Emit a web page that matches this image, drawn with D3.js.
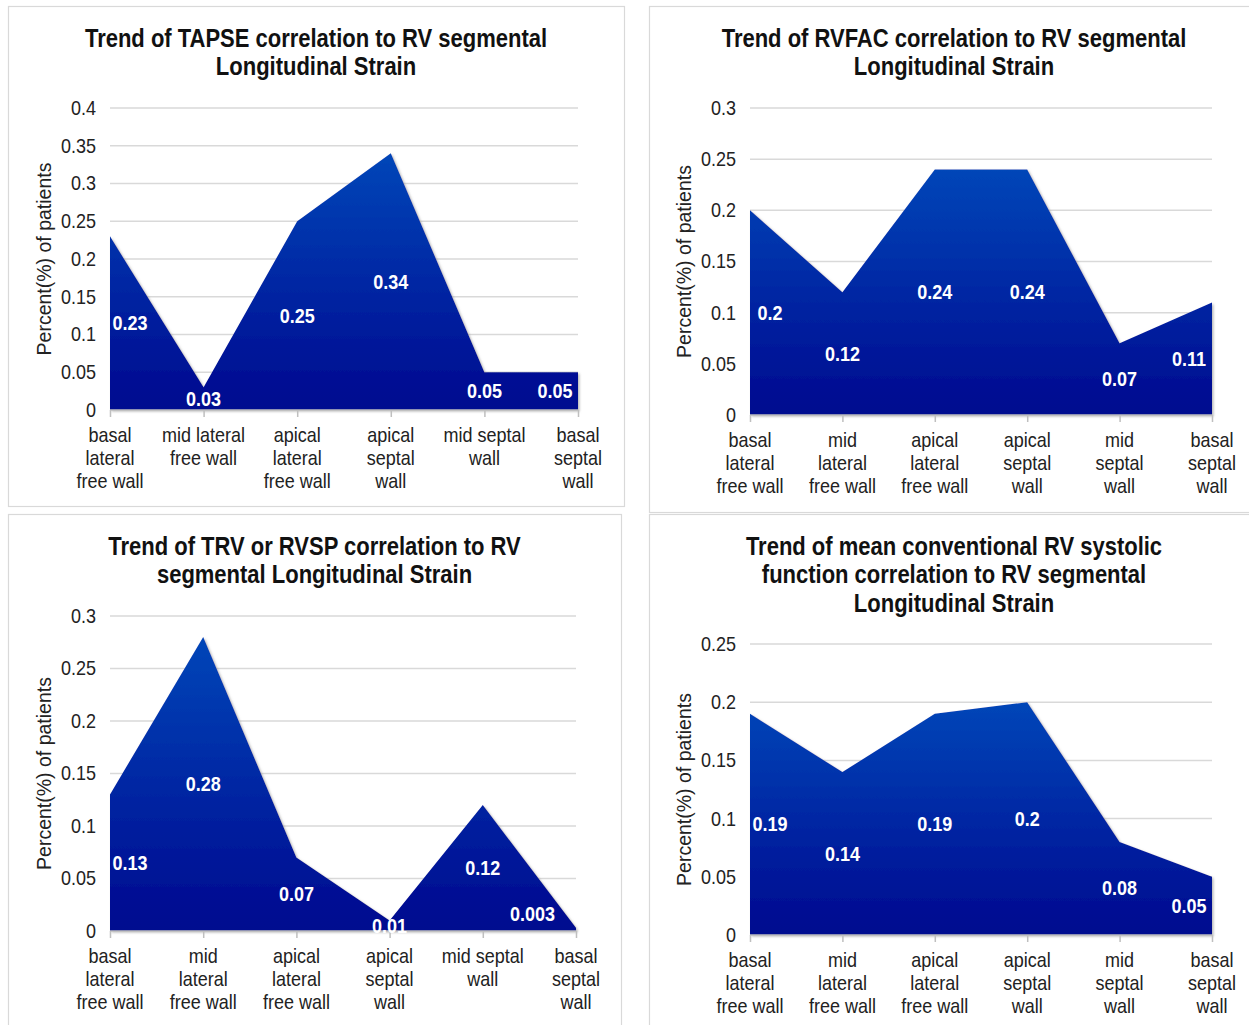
<!DOCTYPE html>
<html>
<head>
<meta charset="utf-8">
<script src="https://cdn.jsdelivr.net/npm/d3@7"></script>
<style>
  body { margin: 0; background: #fff; }
  svg { display: block; font-family: "Liberation Sans Narrow", "Arial Narrow", "Liberation Sans", sans-serif; }
</style>
</head>
<body>
<script>
// données
const segmentsA = [['basal', 'lateral', 'free wall'], ['mid lateral', 'free wall'], ['apical', 'lateral', 'free wall'],
  ['apical', 'septal', 'wall'], ['mid septal', 'wall'], ['basal', 'septal', 'wall']];
const segmentsB = [['basal', 'lateral', 'free wall'], ['mid', 'lateral', 'free wall'], ['apical', 'lateral', 'free wall'],
  ['apical', 'septal', 'wall'], ['mid', 'septal', 'wall'], ['basal', 'septal', 'wall']];
const segmentsC = [['basal', 'lateral', 'free wall'], ['mid', 'lateral', 'free wall'], ['apical', 'lateral', 'free wall'],
  ['apical', 'septal', 'wall'], ['mid septal', 'wall'], ['basal', 'septal', 'wall']];

const tapseValues = [0.23, 0.03, 0.25, 0.34, 0.05, 0.05];
const rvfacValues = [0.2, 0.12, 0.24, 0.24, 0.07, 0.11];
const trvValues = [0.13, 0.28, 0.07, 0.01, 0.12, 0.003];
const meanValues = [0.19, 0.14, 0.19, 0.2, 0.08, 0.05];

const ticksTapse = [0, 0.05, 0.1, 0.15, 0.2, 0.25, 0.3, 0.35, 0.4];
const ticksRvfac = [0, 0.05, 0.1, 0.15, 0.2, 0.25, 0.3];
const ticksTrv = [0, 0.05, 0.1, 0.15, 0.2, 0.25, 0.3];
const ticksMean = [0, 0.05, 0.1, 0.15, 0.2, 0.25];

const titleTapse = ['Trend of TAPSE correlation to RV segmental', 'Longitudinal Strain'];
const titleRvfac = ['Trend of RVFAC correlation to RV segmental', 'Longitudinal Strain'];
const titleTrv = ['Trend of TRV or RVSP correlation to RV', 'segmental Longitudinal Strain'];
const titleMean = ['Trend of mean conventional RV systolic', 'function correlation to RV segmental', 'Longitudinal Strain'];

const yLabel = 'Percent(%) of patients';

const width = 1249;
const height = 1025;
const narrow = 0.9; // compression horizontale pour imiter Arial Narrow

const svg = d3.select('body')
  .append('svg')
  .attr('width', width)
  .attr('height', height);

const defs = svg.append('defs');
const grad = defs.append('linearGradient')
  .attr('id', 'blueFill')
  .attr('x1', 0).attr('y1', 0).attr('x2', 0).attr('y2', 1);
grad.append('stop').attr('offset', '0%').attr('stop-color', '#0646b8');
grad.append('stop').attr('offset', '100%').attr('stop-color', '#00088f');

const shadow = defs.append('filter').attr('id', 'shadow')
  .attr('x', '-5%').attr('y', '-5%').attr('width', '110%').attr('height', '110%');
shadow.append('feDropShadow')
  .attr('dx', 1.5).attr('dy', 1.5).attr('stdDeviation', 1.2)
  .attr('flood-color', '#888').attr('flood-opacity', 0.6);

const panels = [
  { box: [8, 6, 616, 500], title: titleTapse, titleY: 38, cats: segmentsA, values: tapseValues, ticks: ticksTapse,
    x0: 110, x1: 578, yTop: 108, yBot: 410, axisX: 44, nudge: {} },
  { box: [649, 6, 610, 506], title: titleRvfac, titleY: 38, cats: segmentsB, values: rvfacValues, ticks: ticksRvfac,
    x0: 750, x1: 1212, yTop: 108, yBot: 415, axisX: 684, nudge: {} },
  { box: [8, 514, 613, 520], title: titleTrv, titleY: 546, cats: segmentsC, values: trvValues, ticks: ticksTrv,
    x0: 110, x1: 576, yTop: 616, yBot: 931, axisX: 44, nudge: { 5: [-18, -15] } },
  { box: [649, 514, 610, 520], title: titleMean, titleY: 546, cats: segmentsB, values: meanValues, ticks: ticksMean,
    x0: 750, x1: 1212, yTop: 644, yBot: 935, axisX: 684, nudge: {} }
];

panels.forEach(p => drawPanel(p));

function drawPanel(p) {
  const g = svg.append('g');

  // cadre
  g.append('rect')
    .attr('x', p.box[0] + 0.5).attr('y', p.box[1] + 0.5)
    .attr('width', p.box[2]).attr('height', p.box[3])
    .attr('fill', 'none').attr('stroke', '#d9d9d9').attr('stroke-width', 1.2);

  const cx = p.box[0] + p.box[2] / 2;

  // titre
  g.append('g')
    .selectAll('text')
    .data(p.title)
    .enter()
    .append('text')
    .attr('transform', (d, i) => `translate(${cx}, ${p.titleY + i * 28.5}) scale(0.88, 1)`)
    .attr('dy', '0.35em')
    .attr('text-anchor', 'middle')
    .attr('font-size', 25)
    .attr('font-weight', 'bold')
    .attr('fill', '#111')
    .text(d => d);

  const x = d3.scalePoint()
    .domain(d3.range(p.values.length))
    .range([p.x0, p.x1]);

  const y = d3.scaleLinear()
    .domain([0, d3.max(p.ticks)])
    .range([p.yBot, p.yTop]);

  // grille
  g.append('g')
    .selectAll('line')
    .data(p.ticks.slice(1))
    .enter()
    .append('line')
    .attr('x1', p.x0).attr('x2', p.x1)
    .attr('y1', d => y(d)).attr('y2', d => y(d))
    .attr('stroke', '#d9d9d9').attr('stroke-width', 1.5);

  // axe vertical (étiquettes seulement)
  g.append('g')
    .attr('transform', `translate(${p.x0 - 6}, 0)`)
    .call(d3.axisLeft(y).tickValues(p.ticks).tickSize(0).tickPadding(9).tickFormat(d => String(+d.toFixed(3))))
    .call(a => a.select('.domain').remove())
    .call(a => a.selectAll('text')
      .attr('font-size', 20)
      .attr('fill', '#222')
      .attr('transform', `scale(${narrow}, 1)`)
      .attr('font-family', '"Liberation Sans Narrow", "Arial Narrow", "Liberation Sans", sans-serif'));

  // surface
  const area = d3.area()
    .x((d, i) => x(i))
    .y0(y(0))
    .y1(d => y(d));

  g.append('path')
    .datum(p.values)
    .attr('d', area)
    .attr('fill', 'url(#blueFill)')
    .attr('filter', 'url(#shadow)');

  // axe horizontal
  g.append('g')
    .attr('transform', `translate(0, ${p.yBot})`)
    .call(d3.axisBottom(x).tickSize(7).tickFormat(''))
    .call(a => a.select('.domain').attr('stroke', '#bfbfbf').attr('stroke-width', 1.5).attr('d', `M${p.x0},0H${p.x1}`))
    .call(a => a.selectAll('.tick line').attr('stroke', '#bfbfbf').attr('stroke-width', 1.5));

  // catégories
  const cat = g.append('g')
    .selectAll('text')
    .data(p.cats)
    .enter()
    .append('text')
    .attr('transform', (d, i) => `translate(${x(i)}, ${p.yBot + 25}) scale(${narrow}, 1)`)
    .attr('text-anchor', 'middle')
    .attr('font-size', 20)
    .attr('fill', '#222');

  cat.selectAll('tspan')
    .data(d => d)
    .enter()
    .append('tspan')
    .attr('x', 0)
    .attr('dy', (d, i) => i === 0 ? '0.35em' : 23)
    .text(d => d);

  // titre de l'axe
  g.append('text')
    .attr('transform', `translate(${p.axisX}, ${(p.yTop + p.yBot) / 2}) rotate(-90)`)
    .attr('text-anchor', 'middle')
    .attr('dy', '0.35em')
    .attr('font-size', 19.5)
    .attr('font-family', '"Liberation Sans", Arial, sans-serif')
    .attr('fill', '#222')
    .text(yLabel);

  // étiquettes de valeur
  const labels = g.append('g')
    .selectAll('text')
    .data(p.values)
    .enter()
    .append('text')
    .attr('text-anchor', 'middle')
    .attr('dy', '0.35em')
    .attr('font-size', 20)
    .attr('font-weight', 'bold')
    .attr('fill', '#fff')
    .text(d => String(d));

  labels.each(function (d, i) {
    const w = this.getComputedTextLength() * narrow;
    let cxl = x(i);
    cxl = Math.max(cxl, p.x0 + Math.max(w / 2 + 2, 20));
    cxl = Math.min(cxl, p.x1 - Math.max(w / 2 + 3, 23));
    let cy = y(d / 2);
    if (p.nudge[i]) {
      cxl += p.nudge[i][0];
      cy += p.nudge[i][1];
    }
    d3.select(this).attr('transform', `translate(${cxl}, ${cy}) scale(${narrow}, 1)`);
  });
}
</script>
</body>
</html>
